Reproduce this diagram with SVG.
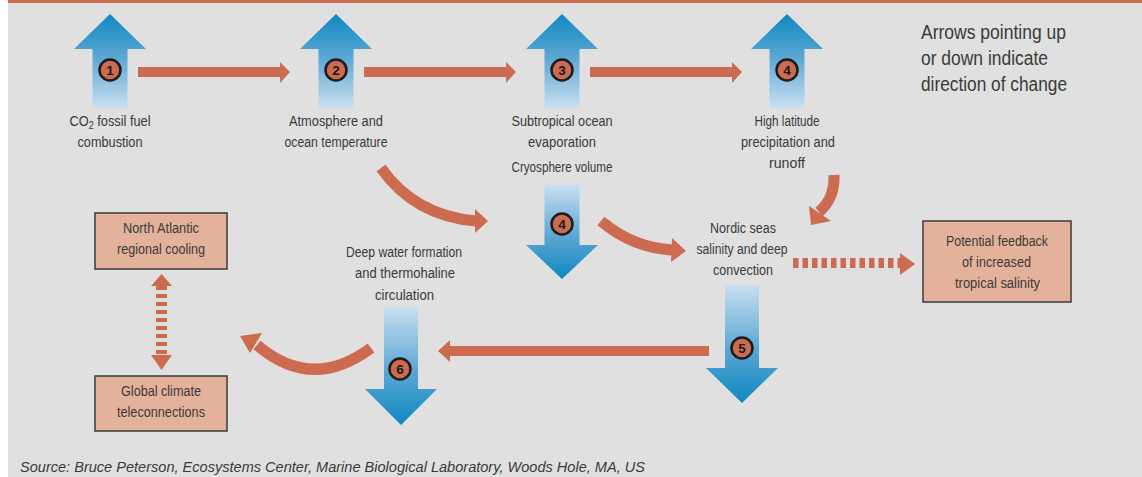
<svg xmlns="http://www.w3.org/2000/svg" width="1142" height="477" viewBox="0 0 1142 477">
<style>
.t{font-family:"Liberation Sans",Arial,sans-serif;font-size:14px;fill:#3a3a3a;text-anchor:middle}
.big{font-family:"Liberation Sans",Arial,sans-serif;font-size:20px;fill:#3a3a3a}
.src{font-family:"Liberation Sans",Arial,sans-serif;font-size:15px;font-style:italic;fill:#3a3a3a}
.num{font-family:"Liberation Sans",Arial,sans-serif;font-size:13.5px;font-weight:bold;fill:#1a1a1a;text-anchor:middle}
.badge{fill:#cd6b50;stroke:#1d1d1d;stroke-width:2.5}
.box{fill:#e4b29a;stroke:#3a3a3a;stroke-width:1.5}
.or{fill:#cd6b50}
.curve{fill:none;stroke:#cd6b50;stroke-width:11}
.dash{fill:none;stroke:#cd6b50;stroke-width:10;stroke-dasharray:5.5 4}
.dashv{fill:none;stroke:#cd6b50;stroke-width:11;stroke-dasharray:4 4}
</style>
<defs>
<linearGradient id="gUp" x1="0" y1="0" x2="0" y2="1">
<stop offset="0" stop-color="#0e88c1"/>
<stop offset="0.45" stop-color="#5aa6d3"/>
<stop offset="1" stop-color="#c9dff1"/>
</linearGradient>
<linearGradient id="gDown" x1="0" y1="0" x2="0" y2="1">
<stop offset="0" stop-color="#c9dff1"/>
<stop offset="0.55" stop-color="#5aa6d3"/>
<stop offset="1" stop-color="#0e88c1"/>
</linearGradient>
<path id="upArrow" d="M0,0 L36,35 L17.5,35 L17.5,94 L-17.5,94 L-17.5,35 L-36,35 Z" fill="url(#gUp)"/>
</defs>
<rect x="8" y="0" width="1134" height="477" fill="#dfe0df"/>
<rect x="8" y="0" width="1134" height="3" fill="#cd6b50"/>

<g id="connectors">
<polygon class="or" points="138,67 280,67 280,62 290,72 280,83 280,77 138,77"/>
<polygon class="or" points="364,67 506,67 506,62 516,72 506,83 506,77 364,77"/>
<polygon class="or" points="590,67 732,67 732,62 742,72 732,83 732,77 590,77"/>
<path class="curve" d="M381,168 Q415,216 476,221"/>
<polygon class="or" points="475,209 488,221 475,233"/>
<path class="curve" d="M601,221 Q633,248 673,250"/>
<polygon class="or" points="672,238 686,251 671,262"/>
<path class="curve" d="M834,175 Q835,198 819,212"/>
<polygon class="or" points="809,206 831,221 811,225"/>
<path class="dash" d="M793,263 L900,263"/>
<polygon class="or" points="900,253 915,264 900,275"/>
<polygon class="or" points="709,346 450,346 450,340 438,351 450,362 450,356 709,356"/>
<path class="curve" d="M371,348 Q312,392 257,345"/>
<polygon class="or" points="240,336 262,333 250,353"/>
<path class="dashv" d="M161.5,286 L161.5,356"/>
<polygon class="or" points="151,286 161.5,274 172,286"/>
<polygon class="or" points="151,355 161.5,370 172,355"/>
</g>

<g id="n1">
<use href="#upArrow" x="110" y="14"/>
<circle class="badge" cx="110" cy="70" r="10.5"/>
<text class="num" x="110" y="74.5">1</text>
<text class="t" x="110" y="126" textLength="81" lengthAdjust="spacingAndGlyphs">CO<tspan font-size="10" dy="3">2</tspan><tspan dy="-3"> fossil fuel</tspan></text>
<text class="t" x="110" y="147" textLength="65" lengthAdjust="spacingAndGlyphs">combustion</text>
</g>
<g id="n2">
<use href="#upArrow" x="336" y="14"/>
<circle class="badge" cx="336" cy="70" r="10.5"/>
<text class="num" x="336" y="74.5">2</text>
<text class="t" x="336" y="126" textLength="94" lengthAdjust="spacingAndGlyphs">Atmosphere and</text>
<text class="t" x="336" y="147" textLength="103" lengthAdjust="spacingAndGlyphs">ocean temperature</text>
</g>
<g id="n3">
<use href="#upArrow" x="562" y="14"/>
<circle class="badge" cx="562" cy="70" r="10.5"/>
<text class="num" x="562" y="74.5">3</text>
<text class="t" x="562" y="126" textLength="101" lengthAdjust="spacingAndGlyphs">Subtropical ocean</text>
<text class="t" x="562" y="147" textLength="68" lengthAdjust="spacingAndGlyphs">evaporation</text>
</g>
<g id="n4">
<use href="#upArrow" x="787" y="14"/>
<circle class="badge" cx="787" cy="70" r="10.5"/>
<text class="num" x="787" y="74.5">4</text>
<text class="t" x="787" y="126" textLength="65" lengthAdjust="spacingAndGlyphs">High latitude</text>
<text class="t" x="788" y="147" textLength="94" lengthAdjust="spacingAndGlyphs">precipitation and</text>
<text class="t" x="787" y="168" textLength="36" lengthAdjust="spacingAndGlyphs">runoff</text>
</g>
<g id="n4b">
<text class="t" x="562" y="172" textLength="101" lengthAdjust="spacingAndGlyphs">Cryosphere volume</text>
<path d="M544.5,185 L579.5,185 L579.5,245 L598,245 L562,279 L526,245 L544.5,245 Z" fill="url(#gDown)"/>
<circle class="badge" cx="562" cy="224" r="10.5"/>
<text class="num" x="562" y="228.5">4</text>
</g>
<g id="nordic">
<text class="t" x="743" y="233" textLength="66" lengthAdjust="spacingAndGlyphs">Nordic seas</text>
<text class="t" x="742" y="254" textLength="91" lengthAdjust="spacingAndGlyphs">salinity and deep</text>
<text class="t" x="743" y="275" textLength="60" lengthAdjust="spacingAndGlyphs">convection</text>
</g>
<g id="n5">
<path d="M725,285 L759,285 L759,368 L778,368 L742,403 L706,368 L725,368 Z" fill="url(#gDown)"/>
<circle class="badge" cx="742" cy="348" r="10.5"/>
<text class="num" x="742" y="352.5">5</text>
</g>
<g id="n6">
<text class="t" x="404" y="257" textLength="116" lengthAdjust="spacingAndGlyphs">Deep water formation</text>
<text class="t" x="405" y="278" textLength="100" lengthAdjust="spacingAndGlyphs">and thermohaline</text>
<text class="t" x="404.5" y="300" textLength="59" lengthAdjust="spacingAndGlyphs">circulation</text>
<path d="M384,307 L418,307 L418,389 L437,389 L401,425 L365,389 L384,389 Z" fill="url(#gDown)"/>
<circle class="badge" cx="400" cy="369" r="10.5"/>
<text class="num" x="400" y="373.5">6</text>
</g>
<g id="feedback">
<rect class="box" x="923" y="221" width="148" height="81"/>
<text class="t" x="997" y="246" textLength="102" lengthAdjust="spacingAndGlyphs">Potential feedback</text>
<text class="t" x="996.5" y="267" textLength="69" lengthAdjust="spacingAndGlyphs">of increased</text>
<text class="t" x="997.5" y="288" textLength="85" lengthAdjust="spacingAndGlyphs">tropical salinity</text>
</g>
<g id="natl">
<rect class="box" x="95" y="213" width="132" height="56"/>
<text class="t" x="161" y="233" textLength="76" lengthAdjust="spacingAndGlyphs">North Atlantic</text>
<text class="t" x="161" y="254" textLength="88" lengthAdjust="spacingAndGlyphs">regional cooling</text>
</g>
<g id="global">
<rect class="box" x="95" y="376" width="132" height="55"/>
<text class="t" x="161" y="396" textLength="80" lengthAdjust="spacingAndGlyphs">Global climate</text>
<text class="t" x="161" y="417" textLength="88" lengthAdjust="spacingAndGlyphs">teleconnections</text>
</g>
<g id="legend">
<text class="big" x="921" y="39" textLength="145" lengthAdjust="spacingAndGlyphs">Arrows pointing up</text>
<text class="big" x="921" y="65" textLength="127" lengthAdjust="spacingAndGlyphs">or down indicate</text>
<text class="big" x="921" y="91" textLength="146" lengthAdjust="spacingAndGlyphs">direction of change</text>
</g>
<text class="src" x="20" y="472" textLength="625" lengthAdjust="spacingAndGlyphs">Source: Bruce Peterson, Ecosystems Center, Marine Biological Laboratory, Woods Hole, MA, US</text>
</svg>
